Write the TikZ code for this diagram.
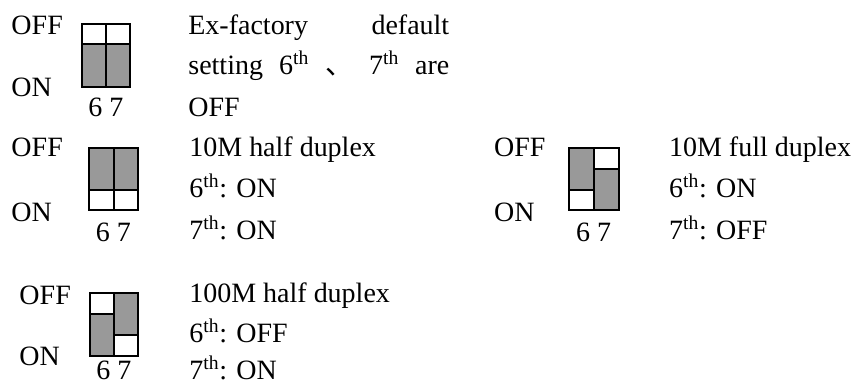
\documentclass[tikz,border=0pt]{standalone}
\usepackage{fontspec}
\setmainfont{Liberation Serif}
\newfontfamily\cjk{Noto Sans CJK SC}
\definecolor{swgray}{RGB}{153,153,153}

\tikzset{every picture/.style={line width=0.75pt}}
\tikzset{
  blankcell/.style={draw=black, fill=white, line width=1.4pt},
  graycell/.style={draw=black, fill=swgray, line width=1.4pt},
  lbl/.style={anchor=base west, inner sep=0.75pt, font=\fontsize{21}{25}\selectfont},
  numlbl/.style={anchor=base, inner sep=0.75pt, font=\fontsize{21}{25}\selectfont},
}

\begin{document}
\begin{tikzpicture}[x=0.75pt,y=0.75pt,yscale=-1,xscale=1]
\path (0,0) rectangle (852,387); %set diagram size

%Shape: Rectangle -- default switch
\draw [blankcell] (82,24) rectangle (106,44) ;
\draw [graycell] (82,44) rectangle (106,87) ;
\draw [blankcell] (106,24) rectangle (130,44) ;
\draw [graycell] (106,44) rectangle (130,87) ;
%Shape: Rectangle -- 10M half duplex
\draw [graycell] (89,148) rectangle (114,190) ;
\draw [blankcell] (89,190) rectangle (114,210) ;
\draw [graycell] (114,148) rectangle (138,190) ;
\draw [blankcell] (114,190) rectangle (138,210) ;
%Shape: Rectangle -- 10M full duplex
\draw [graycell] (569,148) rectangle (594,190) ;
\draw [blankcell] (569,190) rectangle (594,210) ;
\draw [blankcell] (594,148) rectangle (619,169) ;
\draw [graycell] (594,169) rectangle (619,210) ;
%Shape: Rectangle -- 100M half duplex
\draw [blankcell] (90,293) rectangle (114,314) ;
\draw [graycell] (90,314) rectangle (114,356) ;
\draw [graycell] (114,293) rectangle (138,335) ;
\draw [blankcell] (114,335) rectangle (138,356) ;

% Text Node
\draw (10,35) node [lbl] (offA) {OFF};
% Text Node
\draw (10,97) node [lbl] (onA) {ON};
% Text Node
\draw (106,117) node [numlbl] (numA) {6 7};
% Text Node
\draw (187,35) node [lbl] (txtA1) {\makebox[195.75pt][s]{Ex-factory default}};
% Text Node
\draw (187,75) node [lbl] (txtA2) {\makebox[195.75pt][s]{setting 6\textsuperscript{th} {\cjk 、} 7\textsuperscript{th} are}};
% Text Node
\draw (187,117) node [lbl] (txtA3) {OFF};

% Text Node
\draw (10,157) node [lbl] (offB) {OFF};
% Text Node
\draw (10,222) node [lbl] (onB) {ON};
% Text Node
\draw (113.5,242) node [numlbl] (numB) {6 7};
% Text Node
\draw (188,157) node [lbl] (txtB1) {10M half duplex};
% Text Node
\draw (188,198) node [lbl] (txtB2) {6\textsuperscript{th}: ON};
% Text Node
\draw (188,240) node [lbl] (txtB3) {7\textsuperscript{th}: ON};

% Text Node
\draw (493,157) node [lbl] (offC) {OFF};
% Text Node
\draw (493,222) node [lbl] (onC) {ON};
% Text Node
\draw (594,242) node [numlbl] (numC) {6 7};
% Text Node
\draw (668,157) node [lbl] (txtC1) {10M full duplex};
% Text Node
\draw (668,198) node [lbl] (txtC2) {6\textsuperscript{th}: ON};
% Text Node
\draw (668,240) node [lbl] (txtC3) {7\textsuperscript{th}: OFF};

% Text Node
\draw (18,305) node [lbl] (offD) {OFF};
% Text Node
\draw (18,366) node [lbl] (onD) {ON};
% Text Node
\draw (114,380) node [numlbl] (numD) {6 7};
% Text Node
\draw (188,303) node [lbl] (txtD1) {100M half duplex};
% Text Node
\draw (188,343) node [lbl] (txtD2) {6\textsuperscript{th}: OFF};
% Text Node
\draw (188,380) node [lbl] (txtD3) {7\textsuperscript{th}: ON};

\end{tikzpicture}
\end{document}
